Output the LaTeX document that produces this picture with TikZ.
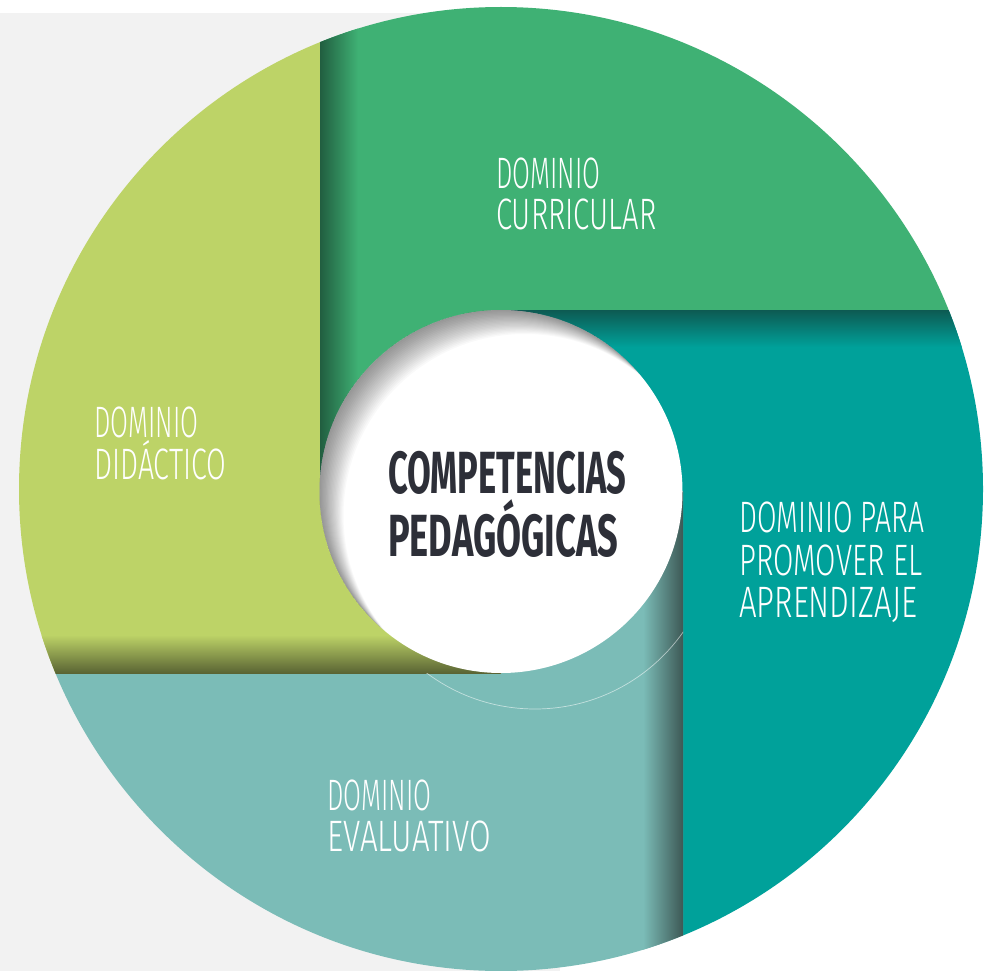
\documentclass[tikz,border=0pt]{standalone}
\usepackage{fontspec}
\setmainfont{Fira Sans}
\newfontfamily\flight{Fira Sans Light}
\usepackage{graphicx}
\definecolor{bggray}{HTML}{F2F2F2}
\definecolor{cgreen}{HTML}{3FB174}
\definecolor{cgreendk}{HTML}{215E40}
\definecolor{cteal}{HTML}{00A19A}
\definecolor{ctealdk}{HTML}{0D5A52}
\definecolor{clteal}{HTML}{7BBCB7}
\definecolor{cltealdk}{HTML}{3D5855}
\definecolor{cyel}{HTML}{BDD367}
\definecolor{cyeldk}{HTML}{5A6434}
\definecolor{titlec}{HTML}{2D2F38}
\newcommand\fitw[2]{\resizebox{#1pt}{\height}{#2}}
\tikzset{
  lbl/.style={anchor=base west, inner sep=0pt, text=white, font=\flight\fontsize{44}{44}\selectfont},
  ttl/.style={anchor=base west, inner sep=0pt, text=titlec, font=\bfseries\fontsize{59.5}{60}\selectfont},
  crescent/.style={fill=black, fill opacity=0.024, even odd rule}
}
\begin{document}
\begin{tikzpicture}[x=1pt,y=-1pt]
\useasboundingbox (0,0) rectangle (993,971);
\fill[white] (0,0) rectangle (993,971);
\fill[bggray] (0,13) rectangle (560,971);
\begin{scope}
  \clip (501,489) circle (482);
  % pieces
  \fill[cgreen] (320,-10) -- (1000,-10) -- (1000,310) -- (501,310) -- (501,491.5) -- (320,491.5) -- cycle;
  \fill[cteal] (501,310) -- (1000,310) -- (1000,1000) -- (683,1000) -- (683,491.5) -- (501,491.5) -- cycle;
  \fill[clteal] (683,491.5) -- (683,1000) -- (-10,1000) -- (-10,673) -- (501,673) -- (501,491.5) -- cycle;
  \fill[cyel] (-10,-10) -- (320,-10) -- (320,491.5) -- (501,491.5) -- (501,673) -- (-10,673) -- cycle;
  % fold shadows
  \shade[left color=cgreendk, right color=cgreen] (320,-10) rectangle (358,491.5);
  \shade[top color=ctealdk, bottom color=cteal] (501,310) rectangle (1000,347);
  \shade[left color=clteal, right color=cltealdk] (643,491.5) rectangle (683,1000);
  \shade[top color=cyel, bottom color=cyeldk] (-10,635) rectangle (501,673);
  % faint arc on the light teal piece
  \begin{scope}
    \clip (683,491.5) -- (683,1000) -- (-10,1000) -- (-10,673) -- (501,673) -- (501,491.5) -- cycle;
    \draw[white, opacity=0.55, line width=0.7pt] (535,528) circle (181);
  \end{scope}
\end{scope}
% central white disc with soft inner shadow on its upper left rim
\fill[white] (501,491.5) circle (181.5);
\begin{scope}
  \clip (501,491.5) circle (181.5);
  \foreach \k in {1,...,20} {
    \path[crescent] (300,290) rectangle (700,700) ({501+1.2*\k},{491.5+1.2*\k}) circle (181.5);
  }
\end{scope}
% labels
\node[lbl] (cur1) at (496,188) {\fitw{104}{DOMINIO}};
\node[lbl] (cur2) at (496,229) {\fitw{160}{CURRICULAR}};
\node[lbl] (did1) at (94,437) {\fitw{104}{DOMINIO}};
\node[lbl] (did2) at (94,479) {\fitw{132}{DIDÁCTICO}};
\node[lbl] (apr1) at (739,532) {\fitw{185}{DOMINIO PARA}};
\node[lbl] (apr2) at (739,575) {\fitw{183}{PROMOVER EL}};
\node[lbl] (apr3) at (739,617) {\fitw{178}{APRENDIZAJE}};
\node[lbl] (eva1) at (327,810) {\fitw{104}{DOMINIO}};
\node[lbl] (eva2) at (327,851) {\fitw{164}{EVALUATIVO}};
\node[ttl] (tit1) at (388,493) {\fitw{238}{COMPETENCIAS}};
\node[ttl] (tit2) at (388,556) {\fitw{230}{PEDAGÓGICAS}};
\end{tikzpicture}
\end{document}
